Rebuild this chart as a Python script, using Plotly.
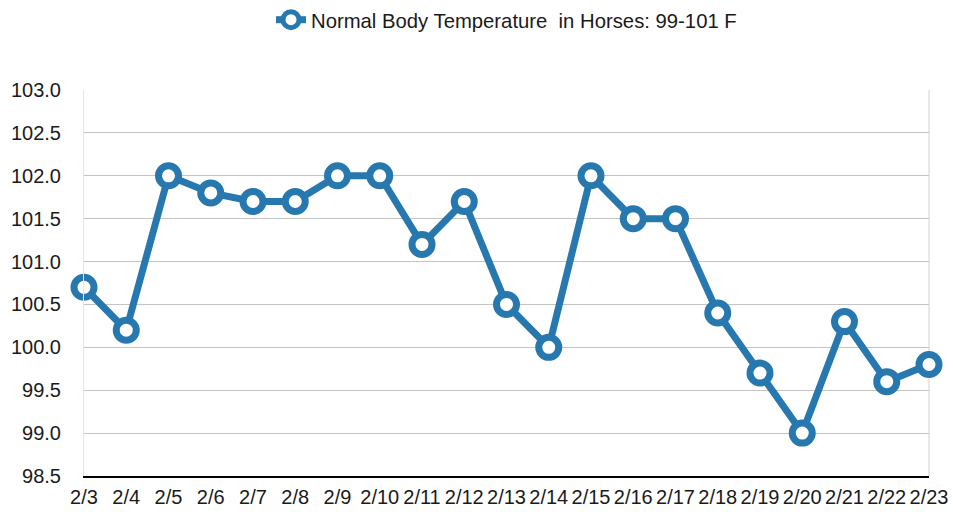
import plotly.graph_objects as go

dates = ["2/3", "2/4", "2/5", "2/6", "2/7", "2/8", "2/9", "2/10", "2/11", "2/12", "2/13",
         "2/14", "2/15", "2/16", "2/17", "2/18", "2/19", "2/20", "2/21", "2/22", "2/23"]
temps = [100.7, 100.2, 102.0, 101.8, 101.7, 101.7, 102.0, 102.0, 101.2, 101.7, 100.5,
         100.0, 102.0, 101.5, 101.5, 100.4, 99.7, 99.0, 100.3, 99.6, 99.8]
series_name = "Normal Body Temperature  in Horses: 99-101 F"
y_ticks = [98.5, 99.0, 99.5, 100.0, 100.5, 101.0, 101.5, 102.0, 102.5, 103.0]

blue = "#2878b0"

fig = go.Figure()
fig.add_trace(go.Scatter(
    x=dates, y=temps, name=series_name, mode="lines+markers",
    line=dict(color=blue, width=7),
    marker=dict(symbol="circle", size=20, color="white", line=dict(color=blue, width=7)),
    cliponaxis=False,
))

font = "Liberation Sans, Arial, Helvetica, sans-serif"
fig.update_layout(
    width=953, height=516,
    margin=dict(l=84, r=24, t=90, b=40, autoexpand=False),
    paper_bgcolor="white", plot_bgcolor="white",
    font=dict(family=font, size=20, color="#1a1a1a"),
    showlegend=True,
    legend=dict(orientation="h", x=0.5, xanchor="center", y=1.0, yanchor="top",
                yref="container", font=dict(size=20.3)),
    xaxis=dict(type="category", range=[0, len(dates) - 1], showgrid=False,
               showline=True, linecolor="black", linewidth=2, ticks="",
               tickfont=dict(size=20), mirror=False, zeroline=False,
               automargin=False, ticklabelstandoff=2),
    yaxis=dict(range=[98.5, 103.0], tickvals=y_ticks,
               ticktext=[f"{v:.1f}" for v in y_ticks],
               showgrid=True, gridcolor="#c4c4c4", gridwidth=1,
               showline=True, linecolor="#e6e6e6", linewidth=1, ticks="",
               tickfont=dict(size=20), zeroline=False,
               automargin=False, ticklabelstandoff=18),
)
fig.add_shape(type="line", xref="paper", yref="paper", x0=1, x1=1, y0=0, y1=1,
              line=dict(color="#d0d0d0", width=1), layer="below")

fig.write_html("out.html", config={"displayModeBar": False},
               post_script="document.body.style.margin='0';document.body.style.overflow='hidden';")
